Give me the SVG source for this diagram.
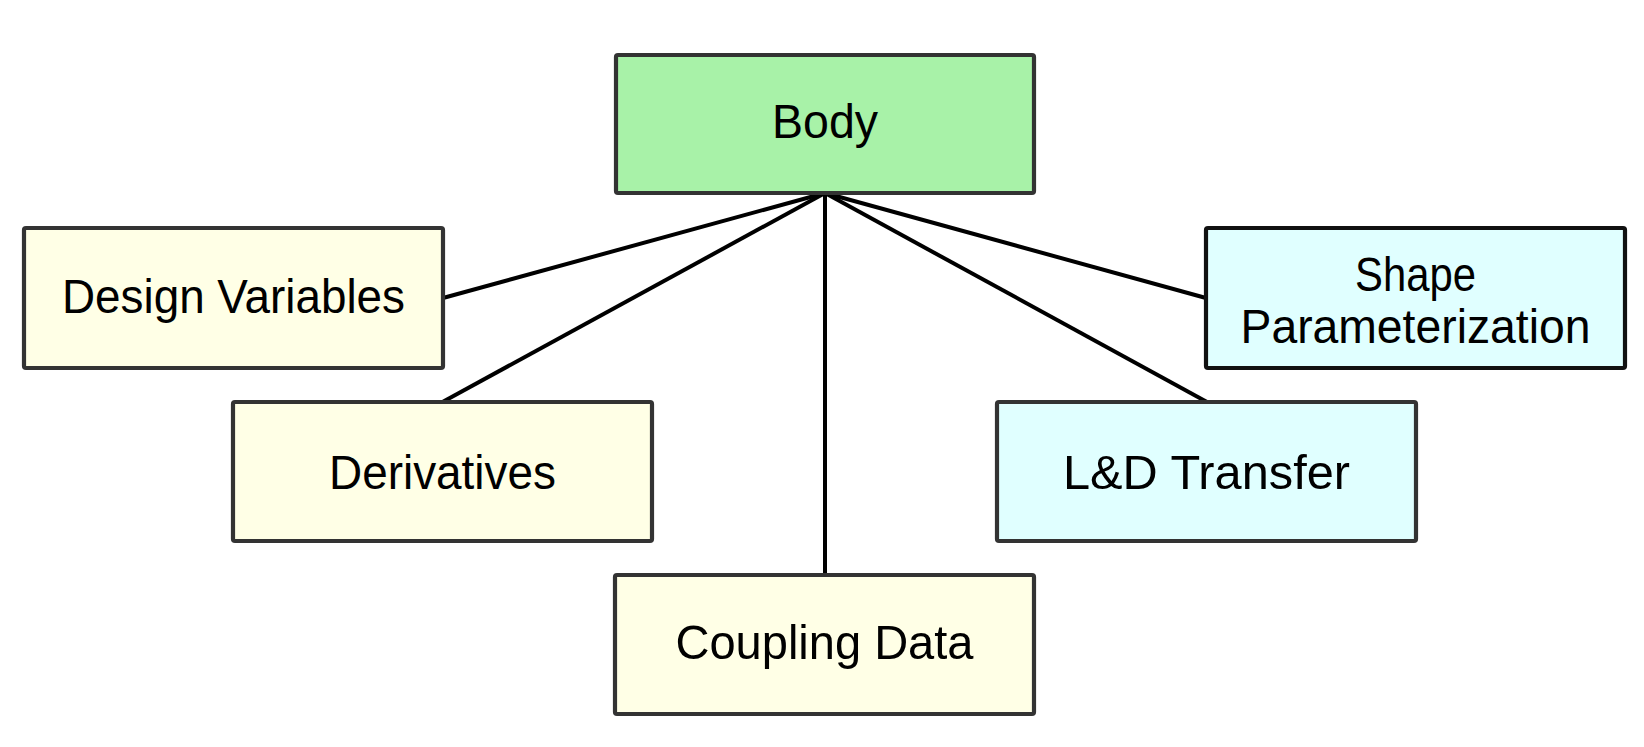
<svg xmlns="http://www.w3.org/2000/svg" width="1644" height="747" viewBox="0 0 1644 747">
<style>
.box{stroke:#333333;stroke-width:4.2;}
.green{fill:#a8f2a8;}
.yellow{fill:#ffffe6;}
.cyan{fill:#e0ffff;}
.edge{stroke:#000000;stroke-width:4;fill:none;}
text{font-family:"Liberation Sans",Arial,sans-serif;font-size:49px;fill:#000000;text-anchor:middle;}
</style>
<rect width="1644" height="747" fill="#ffffff"/>
<g id="connectors">
<line class="edge" x1="825" y1="193" x2="443" y2="298"/>
<line class="edge" x1="825" y1="193" x2="442.5" y2="402"/>
<line class="edge" x1="825" y1="193" x2="825" y2="575"/>
<line class="edge" x1="825" y1="193" x2="1207" y2="402"/>
<line class="edge" x1="825" y1="193" x2="1206" y2="298"/>
</g>
<g id="body">
<rect class="box green" x="616" y="55" width="418" height="138" rx="2"/>
<text x="825" y="138" textLength="106" lengthAdjust="spacingAndGlyphs">Body</text>
</g>
<g id="design-variables">
<rect class="box yellow" x="24" y="228" width="419" height="140" rx="2"/>
<text x="233.5" y="313" textLength="343" lengthAdjust="spacingAndGlyphs">Design Variables</text>
</g>
<g id="derivatives">
<rect class="box yellow" x="233" y="402" width="419" height="139" rx="2"/>
<text x="442.5" y="489" textLength="227" lengthAdjust="spacingAndGlyphs">Derivatives</text>
</g>
<g id="coupling-data">
<rect class="box yellow" x="615" y="575" width="419" height="139" rx="2"/>
<text x="824.5" y="659" textLength="298" lengthAdjust="spacingAndGlyphs">Coupling Data</text>
</g>
<g id="ld-transfer">
<rect class="box cyan" x="997" y="402" width="419" height="139" rx="2"/>
<text x="1206.5" y="489" textLength="287" lengthAdjust="spacingAndGlyphs">L&amp;D Transfer</text>
</g>
<g id="shape-parameterization">
<rect class="box cyan" x="1206" y="228" width="419" height="140" rx="2" style="stroke:#111111"/>
<text x="1415.5" y="291" textLength="121" lengthAdjust="spacingAndGlyphs">Shape</text>
<text x="1415.5" y="343" textLength="350" lengthAdjust="spacingAndGlyphs">Parameterization</text>
</g>
</svg>
